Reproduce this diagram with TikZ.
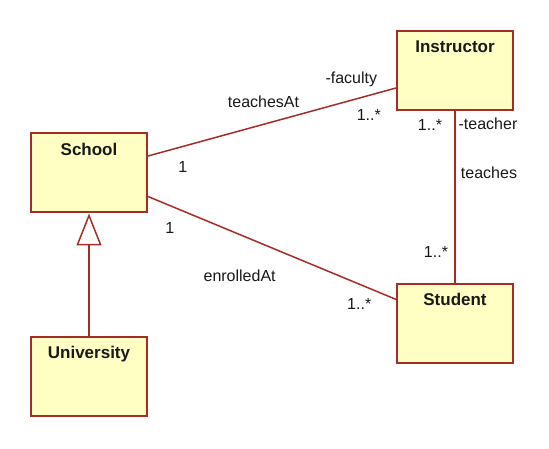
\documentclass[tikz,border=0pt]{standalone}
\usepackage{fontspec}
\setmainfont{Liberation Sans}
\usetikzlibrary{positioning, arrows.meta}
\definecolor{umlred}{RGB}{165,45,40}
\definecolor{umlfill}{RGB}{255,255,196}
\definecolor{umltext}{RGB}{25,25,25}
\tikzset{
  cls/.style={
    draw=umlred, fill=umlfill, line width=2pt,
    minimum width=116pt, minimum height=79pt, inner sep=0pt
  },
  cls title/.style={anchor=north, yshift=-10pt, inner sep=0pt,
    font=\fontsize{17}{20}\selectfont\bfseries, text=umltext},
  every edge/.style={draw=umlred, line width=1.5pt},
  role/.style={inner sep=0pt, font=\fontsize{16}{19}\selectfont, text=umltext},
  generalize/.style={-{Triangle[open, fill=white, length=32pt, width=25pt]}},
}

\begin{document}
\begin{tikzpicture}[x=1pt, y=-1pt, node distance=123pt]
  \path[use as bounding box, fill=white] (0,0) rectangle (549,449);

  \node[cls, label={[cls title]north:School}] (School) at (89,173) {};
  \node[cls, label={[cls title]north:University}, below=122.6pt of School] (University) {};
  \node[cls, label={[cls title]north:Instructor}] (Instructor) at (455,71) {};
  \node[cls, label={[cls title]north:Student}, below=171.4pt of Instructor] (Student) {};

  \path ([yshift=17pt]School.east) edge
          node[role, pos=0.12, shift={(5,19)}] {1}
          node[role, pos=0.49, shift={(-6,-21)}] {teachesAt}
          node[role, pos=0.84, shift={(-5,-20)}] {-faculty}
          node[role, pos=0.87, shift={(5,18)}] {1..*}
        ([yshift=-17pt]Instructor.west)
        ([yshift=-23.5pt]School.east) edge
          node[role, pos=0.12, shift={(-8,19)}] {1}
          node[role, pos=0.43, shift={(-15,35)}] {enrolledAt}
          node[role, pos=0.88, shift={(-7,17)}] {1..*}
        ([yshift=24pt]Student.west)
        (Instructor) edge
          node[role, pos=0.08, shift={(-25,0)}] {1..*}
          node[role, pos=0.07, shift={(33,0)}] {-teacher}
          node[role, pos=0.36, shift={(34,0)}] {teaches}
          node[role, pos=0.82, shift={(-19,0)}] {1..*}
        (Student)
        (University) edge[generalize] (School);
\end{tikzpicture}
\end{document}
